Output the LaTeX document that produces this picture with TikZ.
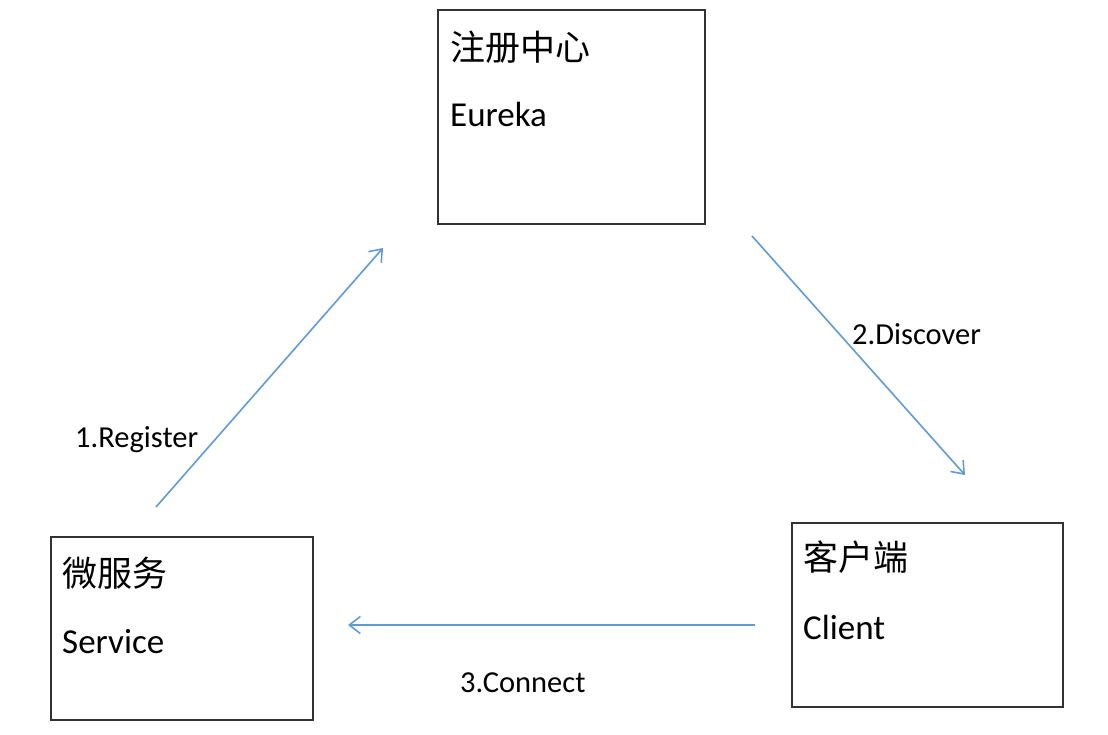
\documentclass[tikz,border=0pt]{standalone}
\usepackage{fontspec}
\setmainfont{Carlito}
\newfontfamily\cjk{Noto Sans CJK SC}
\usetikzlibrary{arrows.meta}
\definecolor{flow}{RGB}{96,156,212}
\definecolor{edge}{RGB}{50,50,50}
\begin{document}
\begin{tikzpicture}[x=1pt,y=-1pt,
  box/.style={draw=edge, line width=1.7pt, anchor=north west, inner sep=0pt, outer sep=0pt},
  cntext/.style={anchor=west, inner sep=0pt, font=\cjk\fontsize{35}{40}\selectfont},
  entext/.style={anchor=base west, inner sep=0pt, font=\fontsize{35}{40}\selectfont},
  lbl/.style={anchor=base west, inner sep=0pt, font=\fontsize{30.5}{36}\selectfont},
  flowarrow/.style={draw=flow, line width=1.6pt, -{Straight Barb[length=11pt,width=17pt,line width=1.6pt]}}]
\useasboundingbox (0,0) rectangle (1108,735);
\fill[white] (0,0) rectangle (1108,735);
% boxes
\node[box, minimum width=267pt, minimum height=214pt] (eureka) at (438,10) {};
\node[box, minimum width=262pt, minimum height=183pt] (service) at (51,537) {};
\node[box, minimum width=271pt, minimum height=184pt] (client) at (792,523) {};
% box texts
\node[cntext] (eurekacn) at (450,47) {注册中心};
\node[entext] (eurekaen) at (450,127) {Eureka};
\node[cntext] (servicecn) at (62,573) {微服务};
\node[entext] (serviceen) at (62,653) {Service};
\node[cntext] (clientcn) at (803,557) {客户端};
\node[entext] (clienten) at (803,639) {Client};
% arrow ends
\coordinate (regS) at (156,507);
\coordinate (regE) at (383,248);
\coordinate (disS) at (752,236);
\coordinate (disE) at (965,475);
\coordinate (conS) at (755,625);
\coordinate (conE) at (348,625);
\draw[flowarrow] (regS) -- (regE);
\draw[flowarrow] (disS) -- (disE);
\draw[flowarrow] (conS) -- (conE);
% labels
\node[lbl] (reglbl) at (75,447) {1.Register};
\node[lbl] (dislbl) at (852,344) {2.Discover};
\node[lbl] (conlbl) at (460,692) {3.Connect};
\end{tikzpicture}
\end{document}
